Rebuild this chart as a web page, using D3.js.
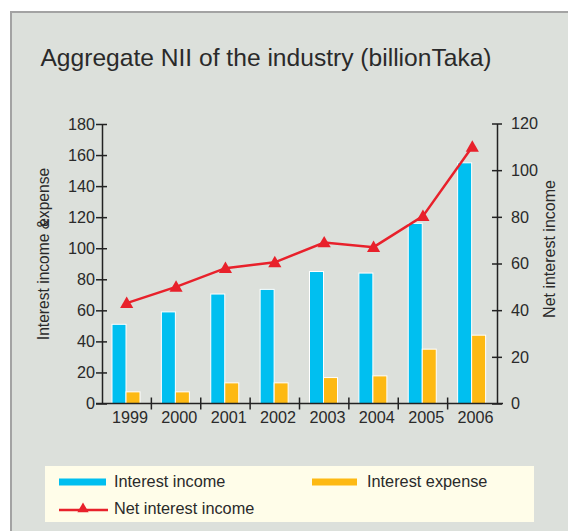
<!DOCTYPE html>
<html>
<head>
<meta charset="utf-8">
<script src="https://cdn.jsdelivr.net/npm/d3@7"></script>
<style>
  body { margin: 0; background: #fff; }
  svg { display: block; font-family: "Liberation Sans", Arial, sans-serif; }
</style>
</head>
<body>
<svg id="chart" width="568" height="531"></svg>
<script>
const years = ["1999", "2000", "2001", "2002", "2003", "2004", "2005", "2006"];
const interestIncome = [51, 59, 70.5, 73.5, 85, 84, 116, 155];
const interestExpense = [7.5, 7.5, 13.3, 13.3, 16.7, 17.8, 35, 44];
const netInterest = [43, 50, 58, 60.5, 69, 67, 80.3, 110];
const leftTicks = [0, 20, 40, 60, 80, 100, 120, 140, 160, 180];
const rightTicks = [0, 20, 40, 60, 80, 100, 120];

const BLUE = "#00bff0";
const YELLOW = "#fdb913";
const RED = "#e8212b";
const TXT = "#2a2a2a";

function drawViz() {
  const svg = d3.select("#chart");
  svg.selectAll("*").remove();

  // panel
  svg.append("rect")
    .attr("x", 11).attr("y", 12).attr("width", 568).attr("height", 531)
    .attr("fill", "#dce0db").attr("stroke", "#a3a3a3").attr("stroke-width", 2);

  svg.append("text")
    .attr("x", 266).attr("y", 66)
    .attr("text-anchor", "middle")
    .style("font-size", "24.6px")
    .attr("fill", TXT)
    .text("Aggregate NII of the industry (billionTaka)");

  const x0 = d3.scaleBand().domain(years).range([102, 497]).paddingInner(0).paddingOuter(0);
  const x1 = d3.scaleBand().domain(["inc", "exp"]).range([10, 38]);
  const yL = d3.scaleLinear().domain([0, 180]).range([403.5, 124]);
  const yR = d3.scaleLinear().domain([0, 120]).range([403.5, 123.5]);

  const g = svg.append("g");

  // bars
  const groups = g.selectAll("g.year")
    .data(years)
    .enter().append("g")
    .attr("transform", d => `translate(${x0(d)},0)`);

  groups.append("rect")
    .attr("x", x1("inc"))
    .attr("width", x1.bandwidth())
    .attr("y", (d, i) => yL(interestIncome[i]))
    .attr("height", (d, i) => yL(0) - yL(interestIncome[i]))
    .attr("fill", BLUE).attr("stroke", "#fff").attr("stroke-width", 1);

  groups.append("rect")
    .attr("x", x1("exp"))
    .attr("width", x1.bandwidth())
    .attr("y", (d, i) => yL(interestExpense[i]))
    .attr("height", (d, i) => yL(0) - yL(interestExpense[i]))
    .attr("fill", YELLOW).attr("stroke", "#fff").attr("stroke-width", 1);

  // axes
  const axisStyle = sel => {
    sel.select(".domain").attr("stroke", "#222").attr("stroke-width", 1.5);
    sel.selectAll(".tick line").attr("stroke", "#222").attr("stroke-width", 1.5);
    sel.selectAll(".tick text").attr("fill", TXT).style("font-size", "16.2px");
  };

  const left = g.append("g").attr("transform", "translate(102,0)")
    .call(d3.axisLeft(yL).tickValues(leftTicks).tickSize(6).tickSizeOuter(0).tickPadding(1));
  left.selectAll(".tick line").attr("x2", 5).attr("x1", -6);
  axisStyle(left);

  const right = g.append("g").attr("transform", "translate(497,0)")
    .call(d3.axisRight(yR).tickValues(rightTicks).tickSize(6).tickSizeOuter(0).tickPadding(8));
  right.selectAll(".tick line").attr("x1", -5).attr("x2", 5);
  axisStyle(right);

  const bottom = g.append("g").attr("transform", "translate(0,403.5)")
    .call(d3.axisBottom(x0).tickSize(0).tickSizeOuter(0).tickPadding(8));
  bottom.select(".domain").attr("d", "M96,0H503");
  axisStyle(bottom);
  bottom.selectAll(".tick text").attr("dx", "0.2em");
  g.append("g").selectAll("line")
    .data(years.slice(1))
    .enter().append("line")
    .attr("x1", d => x0(d)).attr("x2", d => x0(d))
    .attr("y1", 397.5).attr("y2", 409.5)
    .attr("stroke", "#222").attr("stroke-width", 1.5);

  // axis titles
  const lt = svg.append("text")
    .attr("transform", "translate(49,254) rotate(-90)")
    .attr("text-anchor", "middle")
    .style("font-size", "15.6px").attr("fill", TXT);
  lt.append("tspan").text("Interest income &");
  lt.append("tspan").attr("dx", -8).text("expense");

  svg.append("text")
    .attr("transform", "translate(555,249) rotate(-90)")
    .attr("text-anchor", "middle")
    .style("font-size", "16px").attr("fill", TXT)
    .text("Net interest income");

  // line
  const cx = d => x0(d) + x0.bandwidth() / 2;
  const line = d3.line().x((d, i) => cx(years[i])).y(d => yR(d));
  g.append("path").datum(netInterest)
    .attr("d", line)
    .attr("fill", "none").attr("stroke", RED).attr("stroke-width", 2.5);

  const tri = d3.symbol().type(d3.symbolTriangle).size(75);
  g.selectAll("path.mark")
    .data(netInterest)
    .enter().append("path")
    .attr("class", "mark")
    .attr("d", tri)
    .attr("transform", (d, i) => `translate(${cx(years[i])},${yR(d) + 1})`)
    .attr("fill", RED);

  // legend
  const lg = svg.append("g");
  lg.append("rect")
    .attr("x", 45).attr("y", 466).attr("width", 489).attr("height", 56)
    .attr("fill", "#fffde9");
  lg.append("rect").attr("x", 59).attr("y", 478.5).attr("width", 47).attr("height", 7)
    .attr("fill", BLUE);
  lg.append("text").attr("x", 114).attr("y", 487)
    .style("font-size", "16.3px").attr("fill", TXT).text("Interest income");
  lg.append("rect").attr("x", 312).attr("y", 478.5).attr("width", 45).attr("height", 7)
    .attr("fill", YELLOW);
  lg.append("text").attr("x", 367).attr("y", 487)
    .style("font-size", "16.3px").attr("fill", TXT).text("Interest expense");
  lg.append("line").attr("x1", 59).attr("x2", 108).attr("y1", 510).attr("y2", 510)
    .attr("stroke", RED).attr("stroke-width", 2.5);
  lg.append("path").attr("d", d3.symbol().type(d3.symbolTriangle).size(55))
    .attr("transform", "translate(83,509)").attr("fill", RED);
  lg.append("text").attr("x", 114).attr("y", 514)
    .style("font-size", "16.3px").attr("fill", TXT).text("Net interest income");
}

drawViz();
</script>
</body>
</html>
